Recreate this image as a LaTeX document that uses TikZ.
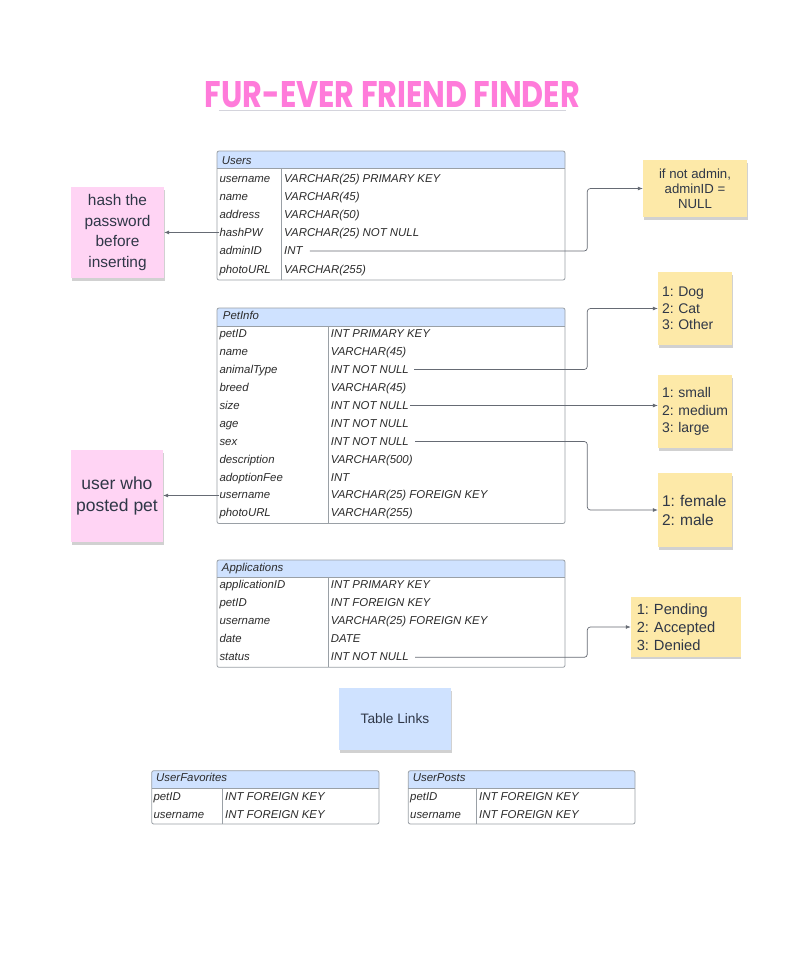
\documentclass[tikz,border=0pt]{standalone}
\usepackage{fontspec}
\usepackage{graphicx}
\setmainfont{Liberation Sans}
\newfontfamily\titlefont{Poppins}
\usetikzlibrary{arrows.meta,shadows}
\frenchspacing
\definecolor{hdrblue}{HTML}{CFE2FF}
\definecolor{framecol}{HTML}{9AA0A6}
\definecolor{notey}{HTML}{FDE9A8}
\definecolor{notep}{HTML}{FFD4F4}
\definecolor{conncol}{HTML}{666B74}
\definecolor{titlepink}{HTML}{FF7BDA}
\definecolor{inktxt}{HTML}{2F3747}
\definecolor{celltxt}{HTML}{2B2B2B}
\definecolor{ulinecol}{HTML}{D4D4DC}
\tikzset{
  cell/.style={anchor=base west, inner sep=0pt, font=\fontsize{11.4}{13}\selectfont\itshape, text=celltxt},
  tbl/.style={draw=framecol, line width=0.8pt},
  sticky/.style={inner sep=0pt, text=inktxt, drop shadow={shadow xshift=0.5pt, shadow yshift=-2.5pt, opacity=0.18, fill=black}},
  leftnote/.style={sticky, align=left},
  conn/.style={draw=conncol, line width=0.7pt, rounded corners=3pt, -{Latex[length=5pt,width=4pt]}},
}
\newcommand{\erdframe}[6]{%
  \fill[hdrblue,rounded corners=2pt] (#1,#2) rectangle (#3,#4);
  \fill[hdrblue] (#1,{#4-3}) rectangle (#3,#4);
  \draw[tbl] (#1,#4) -- (#3,#4);
  \draw[tbl] (#6,#4) -- (#6,#5);
  \draw[tbl,rounded corners=2pt] (#1,#2) rectangle (#3,#5);
}
\begin{document}
\begin{tikzpicture}[x=1pt,y=-1pt]
\useasboundingbox (0,0) rectangle (798,963);
\fill[white] (0,0) rectangle (798,963);

% title
\node[inner sep=0pt, text=titlepink] (title) at (392.5,95) {\resizebox{375pt}{26pt}{\titlefont\bfseries FUR-EVER FRIEND FINDER}};
\draw[ulinecol, line width=1.2pt] ([xshift=14pt,yshift=-2.5pt]title.south west) -- ([xshift=-14pt,yshift=-2.5pt]title.south east);

% Users table
\erdframe{217}{151}{565}{168}{280}{281}
\node[cell] (usersT) at (221.7,164) {Users};
\node[cell] (u1) at (219.3,182) {username};   \node[cell] (u1t) at (284,182) {VARCHAR(25) PRIMARY KEY};
\node[cell] (u2) at (219.3,200) {name};       \node[cell] (u2t) at (284,200) {VARCHAR(45)};
\node[cell] (u3) at (219.3,218) {address};    \node[cell] (u3t) at (284,218) {VARCHAR(50)};
\node[cell] (u4) at (219.3,236.5) {hashPW};   \node[cell] (u4t) at (284,236.5) {VARCHAR(25) NOT NULL};
\node[cell] (u5) at (219.3,254.5) {adminID};  \node[cell] (u5t) at (284,254.5) {INT};
\node[cell] (u6) at (219.3,273) {photoURL};   \node[cell] (u6t) at (284,273) {VARCHAR(255)};

% PetInfo table
\erdframe{217}{308}{565}{326}{523.5}{328.3}
\node[cell] (petT) at (222.7,319) {PetInfo};
\node[cell] (p1) at (219.3,337) {petID};          \node[cell] (p1t) at (330.7,337) {INT PRIMARY KEY};
\node[cell] (p2) at (219.3,355) {name};           \node[cell] (p2t) at (330.7,355) {VARCHAR(45)};
\node[cell] (p3) at (219.3,373) {animalType};     \node[cell] (p3t) at (330.7,373) {INT NOT NULL};
\node[cell] (p4) at (219.3,391) {breed};          \node[cell] (p4t) at (330.7,391) {VARCHAR(45)};
\node[cell] (p5) at (219.3,409) {size};           \node[cell] (p5t) at (330.7,409) {INT NOT NULL};
\node[cell] (p6) at (219.3,427) {age};            \node[cell] (p6t) at (330.7,427) {INT NOT NULL};
\node[cell] (p7) at (219.3,445) {sex};            \node[cell] (p7t) at (330.7,445) {INT NOT NULL};
\node[cell] (p8) at (219.3,463) {description};    \node[cell] (p8t) at (330.7,463) {VARCHAR(500)};
\node[cell] (p9) at (219.3,481) {adoptionFee};    \node[cell] (p9t) at (330.7,481) {INT};
\node[cell] (p10) at (219.3,498.5) {username};    \node[cell] (p10t) at (330.7,498.5) {VARCHAR(25) FOREIGN KEY};
\node[cell] (p11) at (219.3,516.5) {photoURL};    \node[cell] (p11t) at (330.7,516.5) {VARCHAR(255)};

% Applications table
\erdframe{217}{560}{565}{577.7}{667.3}{328.3}
\node[cell] (appT) at (221.7,571.5) {Applications};
\node[cell] (a1) at (219.3,588.5) {applicationID}; \node[cell] (a1t) at (330.7,588.5) {INT PRIMARY KEY};
\node[cell] (a2) at (219.3,606.8) {petID};         \node[cell] (a2t) at (330.7,606.8) {INT FOREIGN KEY};
\node[cell] (a3) at (219.3,624.5) {username};      \node[cell] (a3t) at (330.7,624.5) {VARCHAR(25) FOREIGN KEY};
\node[cell] (a4) at (219.3,642.8) {date};          \node[cell] (a4t) at (330.7,642.8) {DATE};
\node[cell] (a5) at (219.3,660.8) {status};        \node[cell] (a5t) at (330.7,660.8) {INT NOT NULL};

% Table Links
\node[sticky, fill=hdrblue, minimum width=112pt, minimum height=62pt, font=\fontsize{13.7}{16}\selectfont] (links) at (395,719) {Table Links};

% UserFavorites
\erdframe{151.7}{770.7}{379}{788.3}{824}{222.3}
\node[cell] (favT) at (156,781.5) {UserFavorites};
\node[cell] (f1) at (153.3,800) {petID};    \node[cell] (f1t) at (225,800) {INT FOREIGN KEY};
\node[cell] (f2) at (153.3,818) {username}; \node[cell] (f2t) at (225,818) {INT FOREIGN KEY};

% UserPosts
\erdframe{408.3}{770.7}{635}{788.3}{824}{476.7}
\node[cell] (postT) at (412.7,781.5) {UserPosts};
\node[cell] (q1) at (410,800) {petID};    \node[cell] (q1t) at (479,800) {INT FOREIGN KEY};
\node[cell] (q2) at (410,818) {username}; \node[cell] (q2t) at (479,818) {INT FOREIGN KEY};

% sticky notes
\node[sticky, fill=notep, minimum width=93pt, minimum height=91pt, align=center, font=\fontsize{15.4}{20.5}\selectfont] (hashnote) at (117.5,232.5) {hash the\\password\\before\\inserting};
\node[sticky, fill=notep, minimum width=92pt, minimum height=92pt, align=center, font=\fontsize{17.5}{22}\selectfont] (usernote) at (117,496) {user who\\posted pet};
\node[sticky, fill=notey, minimum width=104pt, minimum height=57pt, align=center, font=\fontsize{13.2}{15}\selectfont] (adminnote) at (695,188.5) {if not admin,\\adminID =\\NULL};
\node[leftnote, fill=notey, minimum width=74pt, minimum height=73pt, text width=66pt, inner xsep=4pt, font=\fontsize{14}{16.5}\selectfont] (animalnote) at (695,308.5) {1:~Dog\\2:~Cat\\3:~Other};
\node[leftnote, fill=notey, minimum width=74pt, minimum height=73pt, text width=66pt, inner xsep=4pt, font=\fontsize{14}{17.5}\selectfont] (sizenote) at (695,411.5) {1:~small\\2:~medium\\3:~large};
\node[leftnote, fill=notey, minimum width=74pt, minimum height=74pt, text width=66pt, inner xsep=4pt, font=\fontsize{15.5}{19}\selectfont] (sexnote) at (695,510) {1:~female\\2:~male};
\node[leftnote, fill=notey, minimum width=109.7pt, minimum height=59.4pt, text width=98pt, inner xsep=5.8pt, font=\fontsize{14.7}{17.8}\selectfont] (statusnote) at (685.8,627) {1:~Pending\\2:~Accepted\\3:~Denied};

% connectors
\coordinate (bend) at (587.3,0);
\draw[conn] (u4.west) -- (u4.west -| hashnote.east);
\draw[conn] (p10.west) -- (p10.west -| usernote.east);
\draw[conn, shorten <=7pt] ([yshift=3.5pt]u5t.base east) -- ([yshift=3.5pt]u5t.base east -| bend) |- (adminnote.west);
\draw[conn, shorten <=5pt] ([yshift=3.5pt]p3t.base east) -- ([yshift=3.5pt]p3t.base east -| bend) |- (animalnote.west);
\draw[conn, shorten <=1pt] ([yshift=3.5pt]p5t.base east) -- ([yshift=3.5pt]p5t.base east -| sizenote.west);
\draw[conn, shorten <=6pt] ([yshift=3.5pt]p7t.base east) -- ([yshift=3.5pt]p7t.base east -| bend) |- (sexnote.west);
\draw[conn, shorten <=6pt] ([yshift=3.5pt]a5t.base east) -- ([yshift=3.5pt]a5t.base east -| bend) |- (statusnote.west);
\end{tikzpicture}
\end{document}
